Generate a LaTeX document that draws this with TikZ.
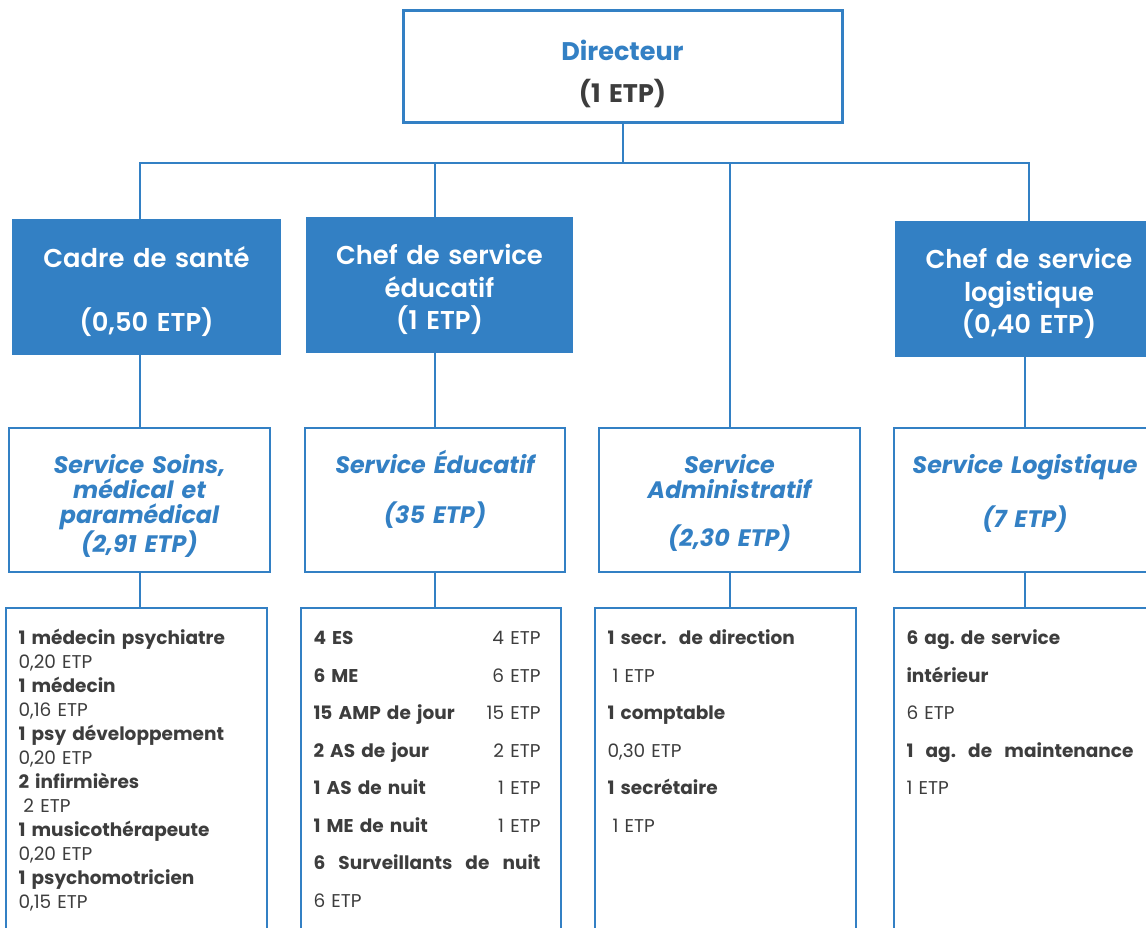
\documentclass[tikz,border=0pt]{standalone}
\usepackage{fontspec}
\setmainfont{Poppins}
\newfontfamily\popmed{Poppins Medium}
\newfontfamily\popsemi{Poppins SemiBold}
\definecolor{orgblue}{HTML}{3380C4}
\definecolor{txtgray}{HTML}{3D3D3D}
\newcommand{\nm}[1]{{\bfseries #1}}
\frenchspacing
\tikzset{%
  link/.style     = {draw=orgblue, line width=2pt},%
  dirbox/.style   = {draw=orgblue, line width=3pt, align=center,%
                     inner xsep=0pt, inner ysep=0pt, text=txtgray,%
                     font=\fontsize{25.5}{42}\selectfont\bfseries,%
                     text height=50pt, text depth=62pt},%
  chefbox/.style  = {fill=orgblue, text=white, align=center,%
                     inner xsep=0pt, inner ysep=0pt,%
                     font=\popsemi\fontsize{25.8}{32.5}\selectfont,%
                     text height=48pt, text depth=88pt},%
  servbox/.style  = {draw=orgblue, line width=2pt, align=center,%
                     inner xsep=0pt, inner ysep=0pt, text=orgblue,%
                     font=\fontsize{23.8}{25}\selectfont\bfseries\itshape,%
                     text height=45pt, text depth=99pt},%
  staffbox/.style = {draw=orgblue, line width=2pt, align=left, anchor=north,%
                     inner xsep=12.5pt, inner ysep=0pt, text=txtgray,%
                     font=\fontsize{18.5}{37.5}\selectfont,%
                     text height=36.5pt, text depth=340pt}%
}
\begin{document}
\begin{tikzpicture}[x=1pt,y=-1pt]
	\useasboundingbox (0,0) rectangle (1146,928);
	\clip (0,0) rectangle (1146,928);
	% direction
	\node[dirbox, text width=439pt] (dir) at (622.5,67) {{\color{orgblue}Directeur}\\(1 ETP)};
	% chefs
	\node[chefbox, text width=269pt] (cadre) at (146.5,287) {Cadre de santé\\[32.5pt](0,50 ETP)};
	\node[chefbox, text width=267pt] (chefedu) at (439.5,285) {Chef de service\\éducatif\\(1 ETP)};
	\node[chefbox, text width=268pt] (cheflog) at (1029,289) {Chef de service\\logistique\\(0,40 ETP)};
	% services
	\node[servbox, text width=261pt] (soins) at (139.5,500) {Service Soins,\\médical et\\paramédical\\(2,91 ETP)};
	\node[servbox, text width=260pt] (servedu) at (435,500) {Service Éducatif\\[25pt](35 ETP)};
	\node[servbox, text width=261pt] (servadm) at (729.5,500) {Service\\Administratif\\[23pt](2,30 ETP)};
	\node[servbox, text width=262pt] (servlog) at (1025,500) {Service Logistique\\[25pt](7 ETP)};
	% personnel
	\node[staffbox, text width=236pt, font=\fontsize{18.5}{24}\selectfont] (staffsoins) at (136.5,607) {%
		\nm{1 médecin psychiatre}\\ 0,20 ETP\\
		\nm{1 médecin}\\ 0,16 ETP\\
		\nm{1 psy développement}\\ 0,20 ETP\\
		\nm{2 infirmières}\\ \hspace*{5pt}2 ETP\\
		\nm{1 musicothérapeute}\\ 0,20 ETP\\
		\nm{1 psychomotricien}\\ 0,15 ETP};
	\node[staffbox, text width=235pt] (staffedu) at (431,607) {%
		\makebox[227pt]{\nm{4 ES}\hfill 4 ETP}\\
		\makebox[227pt]{\nm{6 ME}\hfill 6 ETP}\\
		\makebox[227pt]{\nm{15 AMP de jour}\hfill 15 ETP}\\
		\makebox[227pt]{\nm{2 AS de jour}\hfill 2 ETP}\\
		\makebox[227pt]{\nm{1 AS de nuit}\hfill 1 ETP}\\
		\makebox[227pt]{\nm{1 ME de nuit}\hfill 1 ETP}\\
		\makebox[227pt]{\nm{6}\hfill\nm{Surveillants}\hfill\nm{de}\hfill\nm{nuit}}\\
		6 ETP};
	\node[staffbox, text width=236pt] (staffadm) at (725.5,607) {%
		\nm{1 secr.\ \ de direction}\\ \hspace*{5pt}1 ETP\\
		\nm{1 comptable}\\ 0,30 ETP\\
		\nm{1 secrétaire}\\ \hspace*{5pt}1 ETP};
	\node[staffbox, text width=237pt] (stafflog) at (1025,607) {%
		\nm{6 ag. de service}\\ \nm{intérieur}\\ 6 ETP\\
		\makebox[227pt]{\nm{1}\hfill\nm{ag.}\hfill\nm{de}\hfill\nm{maintenance}}\\ 1 ETP};
	% liens
	\coordinate (bus) at ([yshift=-39pt]dir.south);
	\draw[link] (dir.south) -- (bus);
	\draw[link] (bus) -| (soins.north |- cadre.north);
	\draw[link] (bus) -| (servedu.north |- chefedu.north);
	\draw[link] (bus) -| (servadm.north);
	\draw[link] (bus) -| (cheflog.north);
	\draw[link] (cadre.south -| soins.north) -- (soins.north);
	\draw[link] (chefedu.south -| servedu.north) -- (servedu.north);
	\draw[link] (cheflog.south -| servlog.north) -- (servlog.north);
	\draw[link] (soins.south) -- (soins.south |- staffsoins.north);
	\draw[link] (servedu.south) -- (servedu.south |- staffedu.north);
	\draw[link] (servadm.south) -- (servadm.south |- staffadm.north);
	\draw[link] (servlog.south) -- (servlog.south |- stafflog.north);
\end{tikzpicture}
\end{document}
